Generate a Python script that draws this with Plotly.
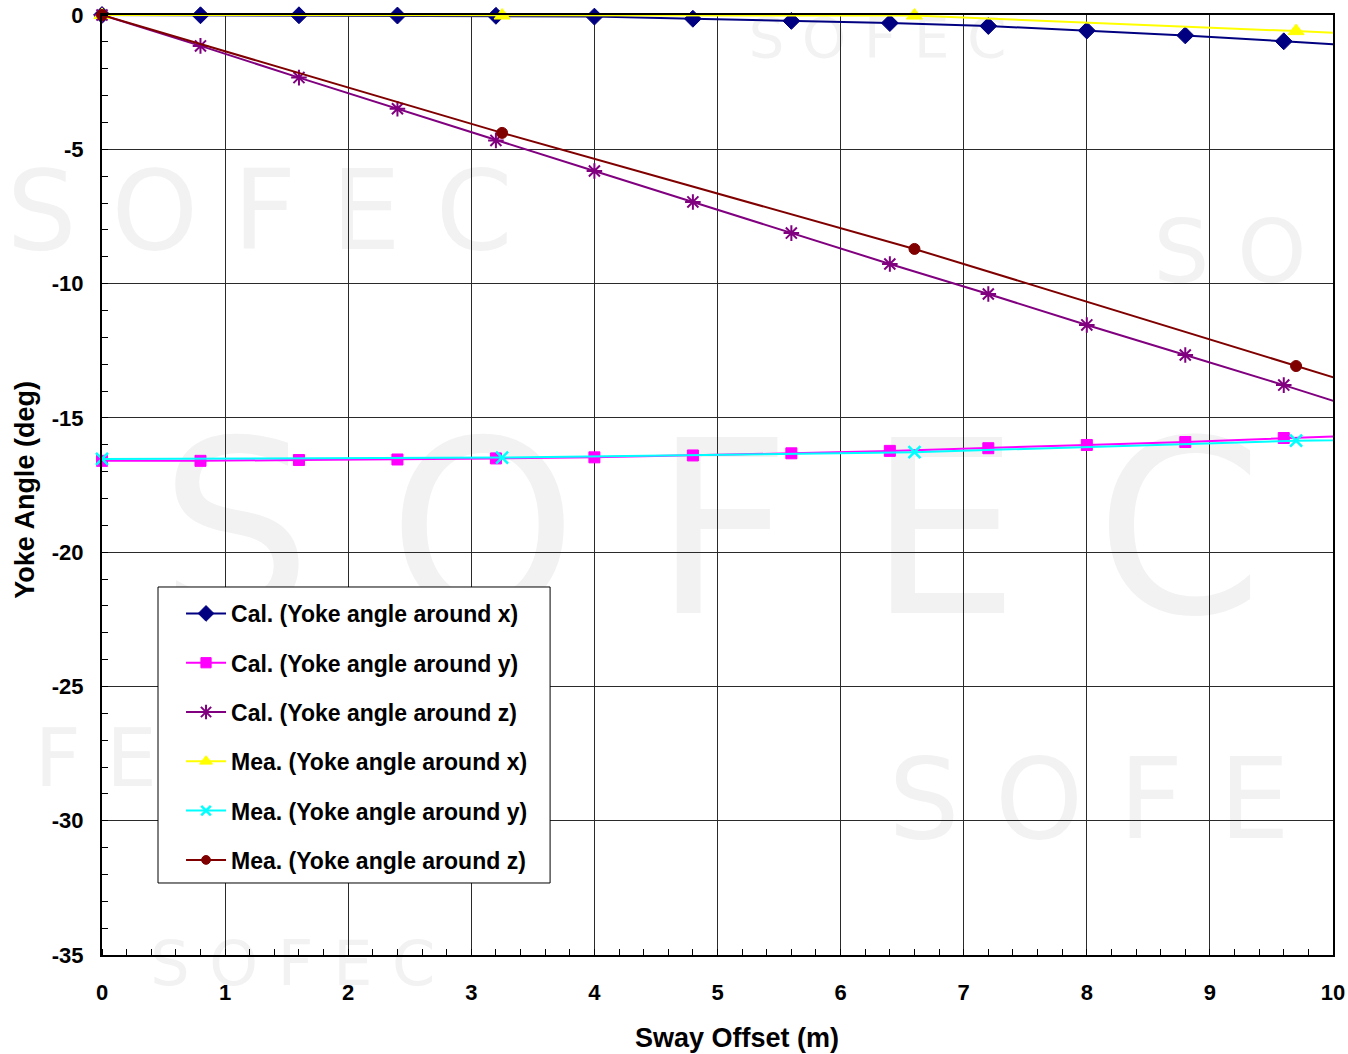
import plotly.graph_objects as go

# Calculated yoke angles (deg) against sway offset (m)
cal_offset = [0, 0.8, 1.6, 2.4, 3.2, 4.0, 4.8, 5.6, 6.4, 7.2, 8.0, 8.8, 9.6, 10.4]
cal_angle_x = [0, -0.01, -0.01, -0.02, -0.03, -0.06, -0.14, -0.22, -0.30, -0.41, -0.58, -0.76, -0.98, -1.20]
cal_angle_y = [-16.60, -16.60, -16.57, -16.55, -16.51, -16.47, -16.40, -16.32, -16.23, -16.13, -16.01, -15.90, -15.75, -15.62]
cal_angle_z = [0, -1.15, -2.33, -3.49, -4.67, -5.81, -6.96, -8.12, -9.27, -10.39, -11.54, -12.66, -13.78, -14.95]

# Measured yoke angles (deg) against sway offset (m)
mea_offset = [0, 3.25, 6.6, 9.7, 13.0]
mea_angle_x = [0, -0.02, -0.02, -0.60, -1.25]
mea_angle_y = [-16.53, -16.48, -16.28, -15.85, -15.65]
mea_angle_z = [0, -4.39, -8.71, -13.07, -17.70]

x_ticks = [0, 1, 2, 3, 4, 5, 6, 7, 8, 9, 10]
y_ticks = [0, -5, -10, -15, -20, -25, -30, -35]

FONT = "Liberation Sans, Arial, sans-serif"

series = [
    ("Cal. (Yoke angle around x)", cal_offset, cal_angle_x, "#000080", "diamond", 13, 1),
    ("Cal. (Yoke angle around y)", cal_offset, cal_angle_y, "#FF00FF", "square", 11, 1),
    ("Cal. (Yoke angle around z)", cal_offset, cal_angle_z, "#800080", "asterisk-open", 13, 2),
    ("Mea. (Yoke angle around x)", mea_offset, mea_angle_x, "#FFFF00", "triangle-up", 14, 1),
    ("Mea. (Yoke angle around y)", mea_offset, mea_angle_y, "#00FFFF", "x-thin-open", 12, 2.5),
    ("Mea. (Yoke angle around z)", mea_offset, mea_angle_z, "#800000", "circle", 11, 1),
]

fig = go.Figure()

# faint background logo marks, drawn beneath the grid and the data
logo_marks = [
    # text, (x0, x1, y0, y1) in paper units, font size, horizontal placement
    ("S O F E C", (0.40, 0.59, 0.42, 0.52), 240, "middle center"),
    ("S O F E C", (0.03, 0.226, 0.75, 0.85), 110, "middle center"),
    ("S O F E C", (0.56, 0.70, 0.95, 1.01), 56, "middle center"),
    ("S O", (0.8517, 0.99, 0.72, 0.79), 88, "middle left"),
    ("S O F E", (0.6364, 0.99, 0.13, 0.22), 112, "middle left"),
    ("F E", (-0.08, 0.047, 0.17, 0.26), 80, "middle right"),
    ("S O F E C", (0.10, 0.21, -0.03, 0.02), 62, "middle center"),
]
for text, (x0, x1, y0, y1), fs, pos in logo_marks:
    fig.add_shape(
        type="rect", xref="paper", yref="paper", x0=x0, x1=x1, y0=y0, y1=y1,
        line=dict(width=0), fillcolor="rgba(0,0,0,0)", layer="below",
        label=dict(text=text, textposition=pos, padding=0,
                   font=dict(family="DejaVu Sans", size=fs, color="#f2f2f2")),
    )

for i, (name, xs, ys, color, symbol, msize, mlw) in enumerate(series):
    fig.add_trace(go.Scatter(
        x=xs, y=ys, name=name, mode="lines+markers",
        line=dict(color=color, width=2),
        marker=dict(
            symbol=symbol, color=color, opacity=1,
            size=[msize if 0 <= v <= 10 else 0 for v in xs],
            line=dict(color=color, width=mlw),
        ),
        cliponaxis=False,
        legendgroup=f"g{i}",
    ))

# legend frame
fig.add_shape(
    type="rect", xref="paper", yref="paper",
    x0=0.0455, x1=0.364, y0=0.0766, y1=0.3915,
    line=dict(color="black", width=1), fillcolor="white", layer="above",
)

fig.update_layout(
    width=1348, height=1054,
    margin=dict(l=102, r=15, t=15, b=99),
    paper_bgcolor="white", plot_bgcolor="white",
    font=dict(family=FONT, color="black"),
    showlegend=True,
    legend=dict(
        x=0.0642, y=0.3862, xanchor="left", yanchor="top",
        bgcolor="rgba(0,0,0,0)", borderwidth=0,
        font=dict(family=FONT, size=23, color="black", weight="bold"),
        traceorder="grouped", tracegroupgap=16.4,
        itemwidth=40,
    ),
    annotations=[
        dict(text="<b>Sway Offset (m)</b>", x=0.516, y=-0.0883, xref="paper", yref="paper",
             showarrow=False, xanchor="center", yanchor="middle",
             font=dict(family=FONT, size=27, color="black")),
        dict(text="<b>Yoke Angle (deg)</b>", x=-0.0626, y=0.495, xref="paper", yref="paper",
             showarrow=False, xanchor="center", yanchor="middle", textangle=-90,
             font=dict(family=FONT, size=27, color="black")),
    ],
)

fig.update_xaxes(
    range=[0, 10], tickvals=x_ticks, ticktext=[str(v) for v in x_ticks],
    showgrid=True, gridcolor="#2a2a2a", gridwidth=1,
    showline=True, linecolor="black", linewidth=2, mirror=True,
    ticks="", ticklabelstandoff=17, automargin=False,
    tickfont=dict(family=FONT, size=22, color="black", weight="bold"),
    minor=dict(dtick=0.2, ticks="inside", ticklen=6, tickcolor="black", showgrid=False),
    zeroline=False,
)
fig.update_yaxes(
    range=[-35, 0], tickvals=y_ticks, ticktext=[str(v) for v in y_ticks],
    showgrid=True, gridcolor="#2a2a2a", gridwidth=1,
    showline=True, linecolor="black", linewidth=2, mirror=True,
    ticks="", ticklabelstandoff=12, automargin=False,
    tickfont=dict(family=FONT, size=22, color="black", weight="bold"),
    minor=dict(dtick=1, ticks="inside", ticklen=6, tickcolor="black", showgrid=False),
    zeroline=False,
)

fig.write_html("out.html")
